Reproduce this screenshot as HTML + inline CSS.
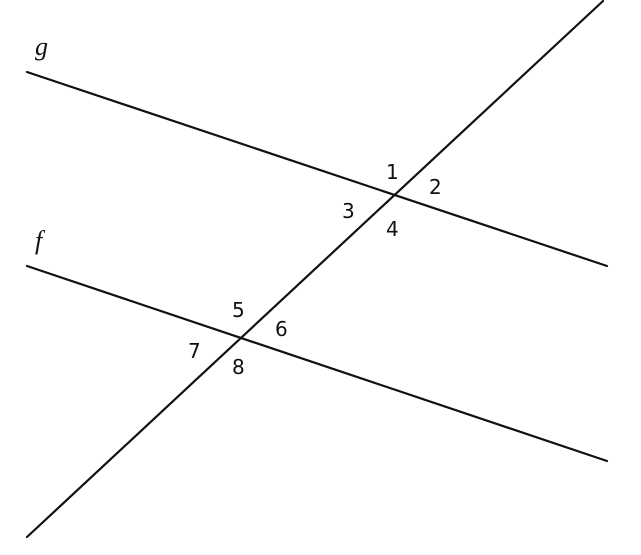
<!DOCTYPE html>
<html><head><style>
html,body{margin:0;padding:0;background:#fff;}
svg{display:block;}
text{font-family:"DejaVu Sans","Liberation Sans",sans-serif;font-size:20px;fill:#111;}
.it{font-family:"Liberation Serif",serif;font-style:italic;font-size:26px;}
</style></head><body>
<svg width="641" height="555" viewBox="0 0 641 555">
<g stroke="#111" stroke-width="2.2" stroke-linecap="round">
<line x1="27" y1="72" x2="607" y2="266"/>
<line x1="27" y1="266" x2="607" y2="461"/>
<line x1="27" y1="537" x2="603" y2="1"/>
</g>
<text class="it" x="35" y="55">g</text>
<text class="it" x="35" y="249">f</text>
<text x="386" y="179">1</text>
<text x="429" y="194">2</text>
<text x="342" y="218">3</text>
<text x="386" y="236">4</text>
<text x="232" y="317">5</text>
<text x="275" y="336">6</text>
<text x="188" y="358">7</text>
<text x="232" y="374">8</text>
</svg>
</body></html>
